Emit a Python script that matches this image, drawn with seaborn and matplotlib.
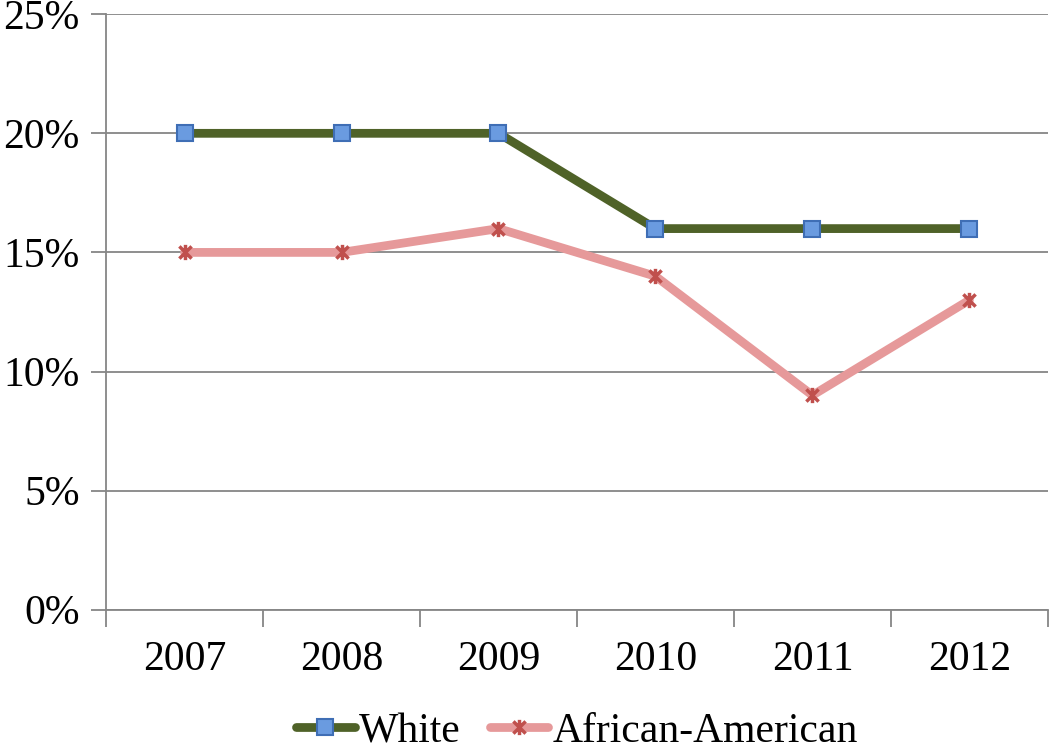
import pandas as pd
import numpy as np
import seaborn as sns
import matplotlib
matplotlib.use("Agg")
import matplotlib.pyplot as plt
from matplotlib.path import Path
from matplotlib.lines import Line2D

years = ['2007', '2008', '2009', '2010', '2011', '2012']
white = [20, 20, 20, 16, 16, 16]
african_american = [15, 15, 16, 14, 9, 13]
series_names = ['White', 'African-American']
y_ticks = [0, 5, 10, 15, 20, 25]

df = pd.DataFrame({
    'year': years * 2,
    'value': white + african_american,
    'group': [series_names[0]] * len(years) + [series_names[1]] * len(years),
})

sns.set_style("white")
plt.rcParams['font.family'] = ['Liberation Serif', 'DejaVu Serif']
plt.rcParams['text.color'] = 'black'
plt.rcParams['xtick.color'] = 'black'
plt.rcParams['ytick.color'] = 'black'

# excel style star marker: x plus vertical bar
star = Path([(-1, -1), (1, 1), (-1, 1), (1, -1), (0, -1.25), (0, 1.25)],
            [Path.MOVETO, Path.LINETO, Path.MOVETO, Path.LINETO, Path.MOVETO, Path.LINETO])

fig = plt.figure(figsize=(10.5, 7.49), dpi=100)
ax = fig.add_axes([0.101, 0.186, 0.897, 0.795])

line_cols = {'White': '#4F6228', 'African-American': '#E6999A'}
sns.lineplot(data=df, x='year', y='value', hue='group', palette=line_cols,
             linewidth=6.3, ax=ax, legend=False, sort=False)

# markers
wd = df[df.group == 'White']
ad = df[df.group == 'African-American']
ax.plot(wd['year'], wd['value'], linestyle='none', marker='s', markersize=11,
        markerfacecolor='#6A9BE0', markeredgecolor='#3F6EB5', markeredgewidth=1.5, zorder=5)
ax.plot(ad['year'], ad['value'], linestyle='none', marker=star, markersize=11,
        markeredgecolor='#C0504D', markeredgewidth=2.5, zorder=5)

ax.set_xlim(-0.5, 5.5)
ax.set_ylim(0, 25)
ax.set_yticks(y_ticks)
ax.set_yticklabels([f'{t}%' for t in y_ticks], fontsize=30)
ax.set_xticks(range(len(years)))
ax.set_xticklabels(years, fontsize=30)
ax.set_xticks(np.arange(-0.5, 6, 1), minor=True)
ax.tick_params(axis='x', which='major', bottom=True, length=0, pad=22, labelcolor='black')
ax.tick_params(axis='x', which='minor', bottom=True, length=12, width=1.3, color='#868686', direction='out')
ax.tick_params(axis='y', left=True, length=11, width=1.3, color='#868686', direction='out', pad=8,
               labelcolor='black')
ax.yaxis.grid(True, color='#868686', linewidth=1.3)
ax.set_axisbelow(True)
ax.set_xlabel('')
ax.set_ylabel('')
for s in ['top', 'right']:
    ax.spines[s].set_visible(False)
for s in ['left', 'bottom']:
    ax.spines[s].set_color('#868686')
    ax.spines[s].set_linewidth(1.3)

handles = [
    Line2D([], [], color='#4F6228', linewidth=6.3, marker='s', markersize=11,
           markerfacecolor='#6A9BE0', markeredgecolor='#3F6EB5', markeredgewidth=1.5),
    Line2D([], [], color='#E6999A', linewidth=6.3, marker=star, markersize=11,
           markeredgecolor='#C0504D', markeredgewidth=2.5),
]
ax.legend(handles, series_names, loc='center', bbox_to_anchor=(0.5, -0.205), ncol=2,
          frameon=False, fontsize=30, handlelength=1.4, handletextpad=0.1,
          columnspacing=0.7, borderaxespad=0)

fig.savefig('out.png', dpi=100)
